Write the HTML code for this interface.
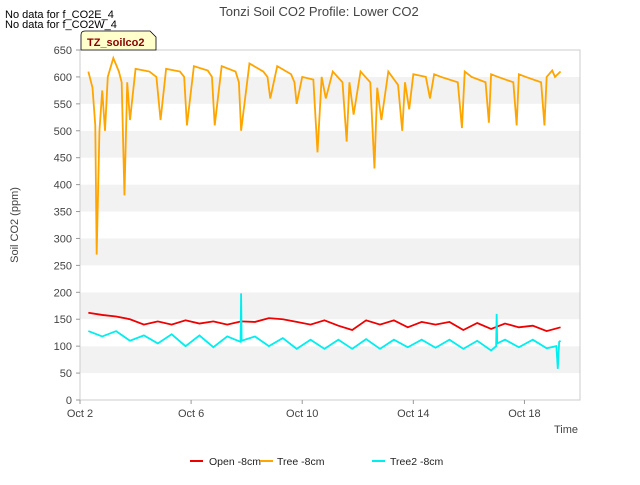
<!DOCTYPE html>
<html><head><meta charset="utf-8"><style>
body{margin:0;background:#fff;font-family:"Liberation Sans","DejaVu Sans",sans-serif;}
</style></head><body>
<svg id="chart" width="640" height="480" xmlns="http://www.w3.org/2000/svg" font-family="Liberation Sans, DejaVu Sans, sans-serif">
<rect width="640" height="480" fill="#fff"/>
<text x="319" y="16" text-anchor="middle" font-size="13" fill="#444">Tonzi Soil CO2 Profile: Lower CO2</text>
<text x="5" y="18" font-size="11" fill="#000">No data for f_CO2E_4</text>
<text x="5" y="28" font-size="11" fill="#000">No data for f_CO2W_4</text>
<g id="bands"></g>
<g id="axes"></g>
<g id="series"></g>
<g>
<path d="M81 50 L81 35 Q81 31 85 31 L150 31 L156 37 L156 50 Z" fill="#ffffcc" stroke="#000" stroke-width="0.8"/>
<text x="87" y="46" font-size="11" font-weight="bold" fill="#8b0000">TZ_soilco2</text>
</g>
<text transform="translate(18,225) rotate(-90)" text-anchor="middle" font-size="11" fill="#444">Soil CO2 (ppm)</text>
<text x="578" y="433" text-anchor="end" font-size="11" fill="#444">Time</text>
<g id="legend"></g>
</svg>
<script>
const yTicks=[0,50,100,150,200,250,300,350,400,450,500,550,600,650];
const xTickDays=[0,4,8,12,16];
const xTickLabels=["Oct 2","Oct 6","Oct 10","Oct 14","Oct 18"];
const treeT=[0.3,0.45,0.55,0.6,0.7,0.8,0.9,1.0,1.2,1.4,1.5,1.6,1.7,1.8,2.0,2.5,2.75,2.9,3.1,3.6,3.75,3.85,4.1,4.6,4.75,4.85,5.1,5.6,5.72,5.8,6.1,6.6,6.75,6.85,7.1,7.6,7.72,7.8,8.0,8.4,8.55,8.7,8.85,9.1,9.45,9.6,9.7,9.85,10.1,10.45,10.6,10.7,10.85,11.1,11.45,11.6,11.7,11.85,12.0,12.45,12.6,12.75,13.0,13.6,13.75,13.85,14.1,14.6,14.72,14.8,15.05,15.6,15.72,15.8,16.05,16.6,16.72,16.8,17.0,17.1,17.3];
const treeV=[610,580,510,270,500,575,500,600,635,610,590,380,590,520,615,610,600,520,615,610,600,510,620,612,600,510,620,610,590,500,625,610,600,560,620,605,590,550,600,595,460,600,560,610,590,480,590,530,610,590,430,580,520,610,585,500,590,540,605,600,560,605,600,590,505,610,600,590,515,605,600,590,510,605,600,590,510,600,612,600,610];
const openT=[0.3,0.8,1.3,1.8,2.3,2.8,3.3,3.8,4.3,4.8,5.3,5.8,6.3,6.8,7.3,7.8,8.3,8.8,9.3,9.8,10.3,10.8,11.3,11.8,12.3,12.8,13.3,13.8,14.3,14.8,15.3,15.8,16.3,16.8,17.3];
const openV=[162,158,155,150,140,146,140,148,142,146,140,146,145,152,150,145,140,148,138,130,148,140,148,135,145,140,145,130,143,132,142,135,138,128,135];
const tree2T=[0.3,0.8,1.3,1.8,2.3,2.8,3.3,3.8,4.3,4.8,5.3,5.78,5.8,5.82,6.3,6.8,7.3,7.8,8.3,8.8,9.3,9.8,10.3,10.8,11.3,11.8,12.3,12.8,13.3,13.8,14.3,14.8,14.98,15.0,15.02,15.3,15.8,16.3,16.8,17.15,17.2,17.25,17.3];
const tree2V=[128,118,128,110,120,105,122,100,120,98,118,108,198,110,118,100,115,95,112,95,112,95,113,95,112,98,112,97,112,95,110,92,100,160,105,112,98,112,96,100,58,108,110];
const x0=80,x1=580,y0=400,y1=50,dMax=18;
const xs=d=>x0+d*(x1-x0)/dMax;
const ys=v=>y0-(v/650)*(y0-y1);
const NS="http://www.w3.org/2000/svg";
function mk(tag,attrs,parent){const e=document.createElementNS(NS,tag);for(const k in attrs)e.setAttribute(k,attrs[k]);parent.appendChild(e);return e;}
const bands=document.getElementById('bands');
for(let i=0;i<yTicks.length-1;i++){
  const b=mk('rect',{x:x0,y:ys(yTicks[i+1]),width:x1-x0,height:ys(yTicks[i])-ys(yTicks[i+1]),fill:(i%2===1)?'#f2f2f2':'#fff'},bands);
  
  
}
const axes=document.getElementById('axes');
const fr=mk('rect',{x:x0,y:y1,width:x1-x0,height:y0-y1,fill:'none',stroke:'#ccc'},axes);


yTicks.forEach(v=>{
  const t=mk('text',{x:x0-8,y:ys(v)+4,'text-anchor':'end','font-size':11,fill:'#444'},axes);t.textContent=v;
  
  
  mk('line',{x1:x0-4,x2:x0,y1:ys(v),y2:ys(v),stroke:'#999'},axes);
});
xTickDays.forEach((d,i)=>{
  const t=mk('text',{x:xs(d),y:y0+17,'text-anchor':'middle','font-size':11,fill:'#444'},axes);t.textContent=xTickLabels[i];
  
  
  mk('line',{x1:xs(d),x2:xs(d),y1:y0,y2:y0+4,stroke:'#999'},axes);
});
const ser=document.getElementById('series');
function line(T,V,color,name){
  const p=mk('polyline',{points:T.map((t,i)=>xs(t)+','+ys(V[i])).join(' '),fill:'none',stroke:color,'stroke-width':1.8},ser);
  
  
}
line(openT,openV,'#ee0000','open-8cm-line');
line(treeT,treeV,'#ffa500','tree-8cm-line');
line(tree2T,tree2V,'#00eeee','tree2-8cm-line');
const leg=document.getElementById('legend');
[['Open -8cm','#ee0000',190,209],['Tree -8cm','#ffa500',260,277],['Tree2 -8cm','#00eeee',372,390]].forEach(([n,c,x,tx])=>{
  const g=mk('g',{},leg);
  
  
  mk('line',{x1:x,x2:x+13,y1:461,y2:461,stroke:c,'stroke-width':2},g);
  const t=mk('text',{x:tx,y:465,'font-size':10.5,fill:'#222'},g);t.textContent=n;
});
</script>
</body></html>
